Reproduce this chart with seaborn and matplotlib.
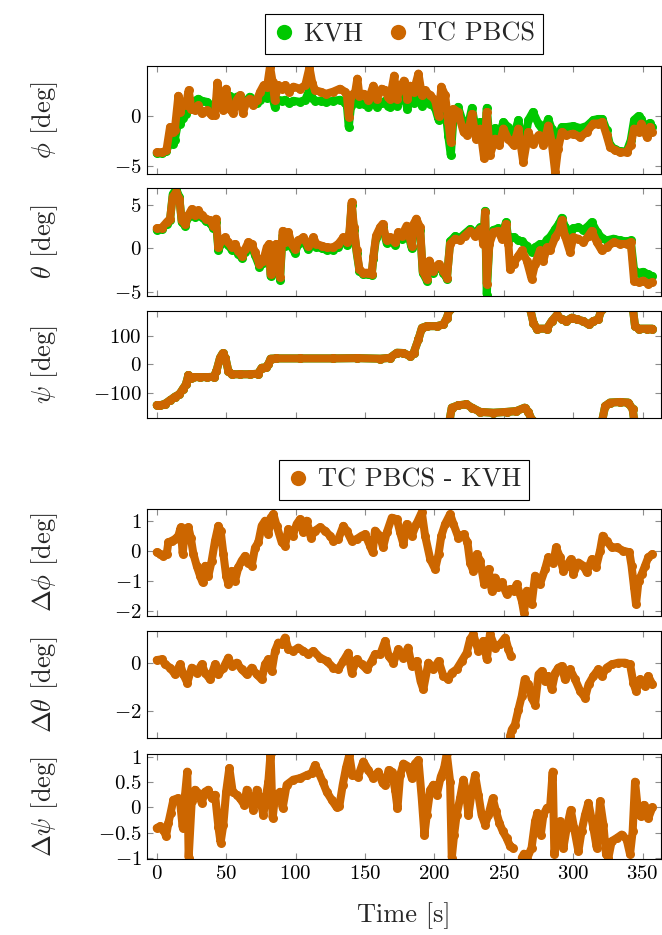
import matplotlib
matplotlib.use("Agg")
import matplotlib.pyplot as plt
import pandas as pd
import seaborn as sns
from matplotlib.lines import Line2D

GREEN = "#00c800"
ORANGE = "#cc6600"

# ---------------- data (time [s], TC PBCS, KVH) ----------------
phi_pts = [
    (0, -3.6, -3.7), (4, -3.6, -3.7), (7, -3.4, -3.5), (9.6, -1.1, -2.5), (11.5, -1.6, -2.8),
    (13, -1.4, -2.4), (15.6, 2.0, -0.5), (17, 0.4, -0.8), (19, 1.4, -0.2), (21, 1.05, 0.2),
    (23, 2.55, 0.8), (25, 0.7, 0.9), (27.5, 0.55, 1.5), (30, 1.05, 1.7), (32.5, 0.25, 1.5),
    (36, 0.55, 1.4), (39.5, 0.05, 1.0), (42, 0.1, 0.9), (43.7, 3.3, 2.0), (46, 1.4, 2.2),
    (48, 0.55, 1.8), (50, 2.7, 2.2), (52.5, 0.7, 2.0), (55, 0.25, 1.6), (57.5, 1.55, 1.9),
    (60, 2.05, 2.0), (62, 0.25, 1.4), (64.5, 1.4, 1.5), (67, 1.7, 1.9), (69.5, 1.05, 1.2),
    (72, 1.55, 1.3), (74.5, 2.4, 1.6), (77, 3.05, 2.0), (79.5, 2.9, 1.8), (81.6, 4.9, 2.6),
    (83.5, 3.35, 1.8), (85, 1.55, 0.9), (87.5, 3.05, 1.6), (90, 2.7, 1.5), (92.5, 3.05, 1.6),
    (95, 2.4, 1.3), (98.5, 2.9, 1.5), (103, 2.7, 1.4), (107, 3.05, 1.6), (110, 4.8, 2.6),
    (112, 3.3, 1.8), (114, 2.55, 1.5), (118, 2.4, 1.5), (122, 2.2, 1.4), (127, 2.4, 1.5),
    (132, 2.7, 1.6), (135.6, 2.4, 1.3), (137, 2.05, 1.0), (138.3, -0.1, -1.1), (140, 2.0, 1.0),
    (143, 2.4, 1.4), (144.5, 3.7, 2.2), (146, 2.0, 1.2), (149, 2.2, 1.2), (152.5, 1.55, 0.9),
    (156, 3.0, 1.6), (158.5, 1.7, 0.9), (162, 2.7, 1.3), (164.5, 2.55, 1.5), (166.5, 1.9, 1.0),
    (168, 1.7, 0.9), (171, 4.0, 2.8), (173, 1.7, 1.0), (175, 2.7, 1.6), (178, 3.5, 2.3),
    (180.5, 1.7, 0.7), (182.5, 3.0, 1.8), (185, 2.4, 1.3), (188.5, 4.2, 2.8), (191, 2.05, 1.0),
    (193, 2.55, 1.5), (197, 2.05, 1.2), (200.5, 1.55, 0.8), (203, 0.0, -0.4), (205, 2.9, 2.0),
    (207.7, 2.05, 0.9), (210, -0.6, -2.0), (211.8, -2.6, -3.9), (213.7, 0.7, -0.3), (217, 0.4, 0.9),
    (221, -1.6, -0.8), (223.8, -1.9, -1.2), (227, 0.2, 0.8), (230, -2.25, -1.5), (233, -1.25, -0.6),
    (235.8, -4.2, -3.3), (237.7, 0.4, 0.8), (240, -3.9, -2.8), (243.7, -2.25, -1.2), (246.8, -2.9, -1.8),
    (249.7, -1.25, -0.6), (253, -2.25, -1.1), (257, -2.9, -2.0), (260.5, -1.25, -0.4), (264, -4.6, -3.5),
    (267.7, -1.6, -0.4), (271, -2.75, 0.4), (275, -1.9, -0.8), (278.5, -2.9, -1.5), (282, -0.95, -0.3),
    (284.5, -2.6, -1.3), (287, -5.6, -4.6), (289, -3.3, -2.0), (291.7, -1.6, -1.1), (295, -1.9, -1.1),
    (300, -1.75, -1.0), (305, -2.1, -1.2), (309.7, -1.6, -1.0), (314.5, -0.75, -0.4), (318, -0.75, -0.3),
    (321, -0.6, -0.3), (324, -1.9, -1.4), (326.5, -3.1, -2.9), (330, -3.4, -3.3), (333.7, -3.6, -3.5),
    (338.5, -3.6, -3.5), (341.4, -2.9, -2.4), (343.8, -1.25, -0.4), (347, -1.6, 0.0), (349, -0.75, -0.3),
    (353, -2.1, -1.5), (355, -1.1, -0.7), (357, -1.6, -1.1),
]

theta_pts = [
    (0, 2.3, 2.1), (3.6, 2.35, 2.2), (7.2, 3.0, 2.8), (9.6, 3.4, 3.2), (11.5, 5.9, 6.2),
    (14, 6.45, 6.8), (16.3, 5.7, 5.9), (18, 3.2, 3.0), (20.4, 2.8, 2.6), (22.8, 3.8, 3.6),
    (25.2, 4.5, 4.3), (27.6, 3.8, 3.6), (30, 4.35, 4.1), (32.4, 3.8, 3.6), (35.5, 3.4, 3.1),
    (38.4, 3.2, 2.9), (40.8, 2.6, 2.3), (42.7, 3.4, 3.0), (44.4, 0.1, -0.2), (46.8, 0.9, 0.6),
    (49.2, 1.25, 1.0), (51.6, 0.7, 0.4), (54, 0.1, -0.2), (56.4, 0.5, 0.2), (58.8, -0.3, -0.6),
    (61.2, -0.85, -1.1), (63.6, -0.1, -0.4), (66, 0.7, 0.4), (68.4, 0.5, 0.2), (70.8, -0.45, -0.8),
    (74, -1.8, -2.1), (76.8, -1.4, -1.7), (79.2, 0.1, -0.2), (81, 0.5, 0.2), (82, -2.95, -3.2),
    (84, -2.2, -2.5), (86, 0.5, 0.2), (87.6, -0.65, -1.0), (88.8, -3.3, -3.6), (90.7, 2.0, 1.6),
    (92.4, 0.7, 0.3), (94.8, 1.85, 1.5), (97.2, 0.5, 0.1), (99.6, -0.1, -0.5), (102, 0.9, 0.5),
    (105.6, 1.25, 0.9), (109, 0.3, -0.1), (112.8, 1.25, 0.9), (115, 0.5, 0.2), (118.8, 0.3, 0.0),
    (122.4, 0.1, -0.2), (127, 0.1, -0.2), (130.8, 0.5, 0.2), (134.4, 1.25, 1.0), (136.8, 0.7, 0.4),
    (138.7, 1.65, 1.3), (140.4, 5.3, 5.0), (142, 2.4, 2.1), (144, -0.25, -0.5), (146, -2.4, -2.6),
    (148.8, -2.8, -3.0), (152.4, -2.8, -3.0), (154.8, -2.95, -3.1), (156, -1.0, -1.2), (158, 1.45, 1.2),
    (160.8, 2.4, 2.1), (162.7, 2.8, 2.5), (165.6, 0.9, 0.6), (168, 1.25, 0.9), (171.7, 0.7, 0.4),
    (174, 1.85, 1.5), (176.5, 1.45, 1.1), (180, 2.6, 2.3), (183.7, 0.3, 0.0), (185, 2.8, 2.5),
    (187, 3.4, 3.1), (189.7, 2.4, 2.1), (191.6, -2.6, -2.8), (194.5, -3.5, -3.7), (196.4, -1.4, -1.6),
    (199.3, -2.6, -2.8), (203, -1.8, -2.0), (206.5, -2.6, -2.8), (209, -3.35, -3.5), (211.3, 0.5, 0.8),
    (215, 1.1, 1.4), (218.5, 0.9, 1.2), (222, 1.45, 1.7), (225.7, 2.0, 2.2), (229, 1.45, 1.7),
    (233, 2.2, 2.4), (235.3, 0.5, 0.8), (236.5, 4.15, 4.3), (237.7, -4.1, -5.3), (239.6, 0.5, 0.8),
    (242.5, 1.85, 2.1), (246, 2.0, 2.3), (248.5, 1.1, 1.5), (251.6, 2.8, 3.0), (253.3, 0.5, 1.0),
    (254.5, -2.4, 1.2), (257, -1.8, 1.3), (260.5, -0.85, 0.9), (263, -0.25, 0.8), (266.5, -1.4, 0.3),
    (270, -3.5, -0.4), (272.5, -1.8, 0.1), (276, -0.25, 0.5), (278.5, -1.4, 0.3), (281, 0.1, 1.0),
    (283.3, -0.25, 1.3), (287, 1.25, 2.2), (290, 2.0, 2.9), (291.7, 3.2, 3.5), (294, 1.45, 2.5),
    (297.7, -0.45, 1.4), (300, 1.25, 2.3), (303.7, 1.1, 2.4), (307.3, 0.7, 2.1), (311, 1.45, 2.6),
    (313.3, 2.0, 3.0), (317, 0.7, 1.9), (320.5, -0.25, 1.2), (324, 0.1, 0.9), (329, 0.7, 1.1),
    (333.7, 0.5, 0.9), (338.5, 0.5, 0.8), (341.4, 0.7, 0.9), (343.8, -3.7, -2.5), (347, -3.9, -2.8),
    (350.5, -3.7, -2.7), (354, -4.1, -3.0), (357, -3.9, -3.2),
]

# psi wraps at +-180 deg: one list of (time, value) per continuous piece
psi_segments = [
    [(0, -144), (2.4, -145), (6, -139), (9.6, -127), (13.2, -114), (16.3, -106), (18.7, -88),
     (21, -71), (22.8, -38), (24.5, -47), (26.4, -45), (31, -45), (36, -45), (41, -44), (43, -24),
     (45.6, 23), (47.5, 39), (49.5, 23), (51.6, -24), (54, -35), (60, -35), (67, -35), (73, -33),
     (75.6, -12), (78.7, -11), (80.4, 0), (82, 20), (86, 21), (103, 21), (127, 21), (144, 22),
     (161, 20), (168, 23), (173, 41), (177.7, 40), (182.5, 29), (185, 40), (188.5, 88), (191, 129),
     (194.5, 135), (201.7, 135), (206.5, 141), (209, 165), (211, 195)],
    [(211, -195), (212.5, -153), (217, -145), (223, -141), (227, -153), (233, -168), (242.5, -171),
     (252, -168), (259, -165), (265, -153), (267.7, -168), (270, -195)],
    [(269, 195), (271.3, 147), (273.7, 126), (281, 126), (284.5, 153), (288, 173), (291.7, 159),
     (295, 153), (299, 165), (302.5, 159), (307, 153), (311, 141), (314.5, 153), (318, 159),
     (320.5, 195)],
    [(321, -195), (323, -147), (326.5, -135), (333.7, -133), (339.7, -135), (342.8, -159), (343.8, -195)],
    [(343, 195), (344.5, 135), (347, 126), (353, 126), (357, 126)],
]

dphi_pts = [
    (0, -0.05), (2.4, -0.1), (4.8, -0.17), (7.2, -0.1), (8.4, 0.28), (10.8, 0.33), (13.2, 0.39),
    (15.6, 0.5), (17.3, 0.78), (18.7, -0.1), (20.4, 0.72), (22.8, 0.78), (24.5, 0.44), (26.4, -0.1),
    (28.8, -0.5), (31.2, -0.83), (33, -1.05), (35, -0.5), (37.2, -0.83), (39.6, -0.33), (42, 0.33),
    (44.4, 0.83), (46, 0.67), (48, -0.1), (50, -0.83), (51.6, -1.1), (54, -0.67), (56.4, -1.0),
    (58.8, -0.55), (61.2, -0.33), (63.6, -0.17), (66, -0.39), (68.4, -0.5), (70.8, 0.1), (73.2, 0.28),
    (75.6, 0.83), (78, 1.0), (80.4, 0.55), (82, 1.1), (84, 1.22), (86.4, 0.83), (90, 0.28),
    (92.4, 0.17), (94.8, 0.72), (98, 0.5), (100.8, 0.89), (103.2, 1.05), (105.6, 0.61), (108, 1.0),
    (111, 0.44), (114, 0.67), (117.6, 0.78), (121.2, 0.67), (124.8, 0.5), (127.2, 0.33), (130.8, 0.39),
    (134.4, 0.83), (136.8, 0.67), (140.4, 0.33), (144, 0.39), (147.6, 0.5), (150, 0.55), (153.6, 0.17),
    (155.5, -0.05), (157.2, 0.67), (160.8, 0.5), (163, 0.11), (165.7, 0.61), (169.3, 1.1), (173, 1.05),
    (175.3, 0.61), (177.7, 0.22), (180, 0.89), (183.7, 0.5), (187, 0.89), (190.9, 1.28), (193.3, 0.5),
    (197, -0.28), (200.5, -0.61), (203, -0.11), (205, 0.5), (207.7, 0.89), (211.3, 1.22), (213.7, 0.89),
    (217.3, 0.44), (221, 0.55), (223.8, 0.28), (225.7, -0.39), (228, -0.67), (230.5, -0.11), (233, -0.33),
    (235.8, -1.11), (239, -0.61), (241.3, -1.33), (243.7, -0.89), (246, -1.22), (248.5, -1.05),
    (252, -1.44), (254.5, -1.28), (257, -1.33), (259.3, -1.11), (263, -1.67), (264.5, -2.06),
    (266.5, -1.33), (270, -1.78), (272.5, -0.83), (276, -1.11), (279.7, -0.61), (282, -0.22),
    (285.7, -0.39), (287.6, 0.11), (290.5, -0.22), (292.9, -0.67), (295.3, -0.5), (298.2, -0.28),
    (300, -0.78), (303.7, -0.39), (307.3, -0.5), (309.7, -0.72), (313.3, -0.28), (316.4, -0.55),
    (319.3, 0.0), (321.2, 0.5), (324, 0.33), (327.7, 0.11), (331.3, 0.11), (336, 0.0), (340.4, -0.05),
    (342, -0.5), (343.8, -1.22), (345.2, -1.78), (347, -1.0), (349.3, -0.78), (351.7, -0.5),
    (354, -0.22), (357, -0.11),
]

dtheta_segments = [
    [(0, 0.14), (3.6, 0.17), (6, -0.04), (9.6, -0.18), (13.2, -0.46), (16.8, -0.04), (19.2, -0.46),
     (22, -0.81), (25.2, -0.18), (28.8, -0.39), (32.4, -0.04), (34.8, -0.39), (38.4, -0.67), (42, -0.04),
     (44.4, -0.46), (48, -0.18), (51.6, 0.24), (54, -0.11), (57.6, 0.03), (61.2, -0.25), (64.8, -0.46),
     (68.4, -0.18), (72, -0.46), (75.6, -0.67), (78, -0.04), (80.4, 0.17), (82.8, -0.32), (85.2, 0.52),
     (87.6, 0.87), (90, 0.8), (92.4, 1.08), (94.8, 0.59), (98.4, 0.52), (102, 0.66), (105.6, 0.52),
     (109.2, 0.38), (112.8, 0.52), (117.6, 0.24), (122.4, 0.1), (127.2, -0.18), (130.8, -0.25),
     (134.4, 0.1), (138, 0.45), (140.4, -0.39), (144, 0.17), (147.6, -0.04), (151.2, -0.25),
     (154.8, 0.1), (157.2, 0.38), (161, 0.38), (164.5, 0.94), (167, 0.31), (170.5, 0.03), (174, 0.59),
     (177.7, 0.24), (181, 0.66), (183.7, -0.11), (187.3, 0.1), (190, -0.74), (192, -1.09), (195.7, 0.03),
     (199.3, -0.25), (203, 0.1), (206.5, -0.53), (210, -0.67), (212.5, -0.39), (216, -0.25), (219.7, 0.1),
     (223.3, 0.45), (225.7, 1.01), (228, 1.22), (231.7, 0.52), (235.3, 0.94), (237.7, 0.17), (240, 1.22),
     (243.7, 0.66), (247.3, 0.8), (251, 1.08), (253.3, 0.59), (255, 0.31)],
    [(254.5, -3.05), (255.7, -2.77), (258, -2.56), (260.5, -1.93), (262.9, -1.37), (265, -0.67),
     (267.7, -0.88), (270, -1.44), (272.5, -1.72), (275, -0.46), (277.3, -0.32), (279.7, -0.74),
     (282, -0.53), (284.5, -1.09), (287, -0.39), (289.3, -0.18), (291.7, -0.11), (294, -0.67),
     (297.7, -0.25), (301.3, -0.67), (305, -1.16), (308.5, -1.44), (311, -0.88), (314.5, -0.53),
     (318, -0.25), (320.5, -0.53), (324, -0.18), (327.7, -0.04), (332.5, 0.03), (337.3, 0.03),
     (340.9, -0.04), (343.3, -0.81), (345.2, -1.16), (348, -0.67), (351.7, -0.95), (354, -0.53),
     (357, -0.88)],
]

dpsi_segments = [
    [(0, -0.41), (2.4, -0.375), (4.8, -0.44), (6.7, -0.57), (8.4, -0.31), (10, -0.11), (12, 0.15),
     (15, 0.18), (16.8, 0.12), (18.7, -0.4), (20.4, 0.25), (22, 0.71), (23, -1.0), (25.2, 0.12),
     (27.6, 0.35), (30, 0.28), (32.4, 0.09), (34.8, 0.31), (37.2, 0.35), (39.6, 0.18), (42, 0.25),
     (44.4, -0.38), (46, -0.7), (48, -0.34), (50, 0.31), (52.3, 0.78), (54.7, 0.31), (57.6, 0.25),
     (60, 0.18), (63, 0.05), (64.8, 0.35), (67.2, 0.18), (69.6, -0.05), (72, 0.35), (74.4, 0.18),
     (76.8, -0.15), (78.7, 0.22), (80.4, 0.51), (82, 1.07), (83.5, -0.21), (85.2, 0.22), (88.8, 0.31),
     (90.7, -0.01), (93.6, 0.45), (98.4, 0.55), (103.2, 0.58), (108, 0.64), (111.6, 0.68), (114, 0.84),
     (116.4, 0.71), (119.5, 0.51), (122.4, 0.31), (126, 0.15), (129.6, 0.0), (131.5, 0.02), (134, 0.45),
     (136.3, 0.78), (138.7, 1.04), (141, 0.64), (145, 0.61), (148.8, 0.91), (152.4, 0.74), (156, 0.58),
     (159.6, 0.71), (162.7, 0.48), (164.5, 0.45), (167, 0.74), (169.3, 0.71), (171.7, 0.35),
     (173.4, -0.01), (175.3, 0.64), (177.7, 0.87), (181.3, 0.81), (183.7, 0.58), (186, 0.87),
     (188.5, 0.94), (190.9, 0.18), (192.8, -0.54), (194.5, -0.15), (197, 0.35), (199.3, 0.45),
     (201.7, 0.25), (204.6, 0.61), (207, 0.78), (208.9, 1.07), (211.3, 0.51), (212.5, -1.0),
     (214.2, -0.54), (216, -0.15), (218.5, 0.18), (220.9, 0.55), (222.8, 0.31), (224.5, -0.15),
     (226.9, 0.31), (229.3, 0.64), (231.7, 0.25), (234, -0.15), (236.5, -0.34), (238.9, -0.15),
     (242, 0.18), (244.4, -0.08), (246.8, -0.31), (249.2, -0.47), (252, -0.61), (254.5, -0.77),
     (256.4, -0.8)],
    [(262.9, -1.0), (264.5, -0.92), (266.5, -1.03), (270, -0.8), (272.5, -0.28), (274.2, -0.11),
     (276.6, -0.54), (278.5, -0.15), (281, -0.01), (283.3, -0.01), (285.2, 0.71), (286.4, -0.93),
     (288, -0.61), (290.5, -0.28), (292.9, -0.8), (295.3, -0.41), (298.2, -0.05), (300.6, -0.41),
     (303.7, -0.87), (306, -0.47), (308.5, -0.15), (310.9, 0.09), (314.5, -0.41), (316.9, -0.8),
     (319.3, 0.12), (321.7, -0.34), (323.6, -0.93), (325.3, -1.0), (327.7, -0.67), (331.3, -0.61),
     (334.9, -0.54), (338.5, -0.64), (340.9, -0.93), (342.8, -0.47), (344.5, 0.51), (346.2, 0.05),
     (348.6, -0.18), (351, 0.05), (354.1, -0.21), (357, 0.0)],
]

x_ticks = [0, 50, 100, 150, 200, 250, 300, 350]
y_labels = [r"$\phi$ [deg]", r"$\theta$ [deg]", r"$\psi$ [deg]",
            r"$\Delta\phi$ [deg]", r"$\Delta\theta$ [deg]", r"$\Delta\psi$ [deg]"]
y_ticks = [[-5, 0], [-5, 0, 5], [-100, 0, 100], [-2, -1, 0, 1], [-2, 0], [-1, -0.5, 0, 0.5, 1]]
y_limits = [(-5.75, 4.95), (-5.47, 6.92), (-189.5, 188.5), (-2.17, 1.39), (-3.12, 1.355), (-1.025, 1.06)]

# ---------------- style ----------------
sns.set_theme(style="ticks")
plt.rcParams.update({
    "font.family": "serif",
    "font.serif": ["cmr10", "DejaVu Serif"],
    "mathtext.fontset": "cm",
    "axes.unicode_minus": True,
    "axes.edgecolor": "black",
    "axes.linewidth": 0.8,
})

FS = 15      # tick labels
FS_LAB = 19  # axis labels
FS_LEG = 19  # legends
W, H = 662, 935
fig = plt.figure(figsize=(W / 100, H / 100), dpi=100)
boxes = [(66, 174), (188, 296), (311, 418), (509, 616), (631, 738), (754, 859)]
L, R = 147, 661
axes = [fig.add_axes([L / W, 1 - b / H, (R - L) / W, (b - t) / H]) for t, b in boxes]

LINE_KW = dict(lw=5.8, marker="o", markersize=6.5, markeredgewidth=0,
               solid_capstyle="round", solid_joinstyle="round", legend=False)


def draw(ax, frame, col, color):
    sns.lineplot(data=frame, x="t", y=col, units="seg", estimator=None, sort=False,
                 color=color, ax=ax, **LINE_KW)


def seg_frame(segments):
    rows = []
    for k, seg in enumerate(segments):
        for tt, vv in seg:
            rows.append({"t": tt, "v": vv, "seg": k})
    return pd.DataFrame(rows)


phi_df = pd.DataFrame(phi_pts, columns=["t", "tc", "kvh"]).assign(seg=0)
theta_df = pd.DataFrame(theta_pts, columns=["t", "tc", "kvh"]).assign(seg=0)
psi_df = seg_frame(psi_segments)
dphi_df = pd.DataFrame(dphi_pts, columns=["t", "v"]).assign(seg=0)
dtheta_df = seg_frame(dtheta_segments)
dpsi_df = seg_frame(dpsi_segments)

draw(axes[0], phi_df, "kvh", GREEN)
draw(axes[0], phi_df, "tc", ORANGE)
draw(axes[1], theta_df, "kvh", GREEN)
draw(axes[1], theta_df, "tc", ORANGE)
draw(axes[2], psi_df, "v", GREEN)
draw(axes[2], psi_df, "v", ORANGE)
draw(axes[3], dphi_df, "v", ORANGE)
draw(axes[4], dtheta_df, "v", ORANGE)
draw(axes[5], dpsi_df, "v", ORANGE)


def fmt(v):
    return "$" + f"{v:g}" + "$"


for i, ax in enumerate(axes):
    ax.set_xlim(-7, 363.2)
    ax.set_ylim(*y_limits[i])
    ax.set_xticks(x_ticks)
    ax.set_yticks(y_ticks[i])
    ax.set_yticklabels([fmt(v) for v in y_ticks[i]], fontsize=FS)
    if i == 5:
        ax.set_xticklabels([fmt(v) for v in x_ticks], fontsize=FS)
        ax.set_xlabel("Time [s]", fontsize=FS_LAB, labelpad=14)
    else:
        ax.set_xticklabels([])
        ax.set_xlabel("")
    ax.set_ylabel(y_labels[i], fontsize=FS_LAB)
    ax.yaxis.set_label_coords(-0.17, 0.5)
    ax.tick_params(axis="both", direction="in", length=4.5, width=0.8, color="#8c8c8c",
                   top=True, right=True, labelcolor="black", pad=4)
    for sp in ax.spines.values():
        sp.set_visible(True)
        sp.set_color("black")
        sp.set_linewidth(0.8)

h_kvh = Line2D([], [], ls="none", marker="o", markersize=11, markeredgewidth=0, color=GREEN)
h_tc = Line2D([], [], ls="none", marker="o", markersize=11, markeredgewidth=0, color=ORANGE)

leg_kw = dict(loc="center", frameon=True, fancybox=False, edgecolor="black", fontsize=FS_LEG,
              handletextpad=0.35, columnspacing=0.9, borderpad=0.3, handlelength=0.8,
              framealpha=1)
lg1 = fig.legend([h_kvh, h_tc], ["KVH", "TC PBCS"], ncol=2,
                 bbox_to_anchor=(404 / W, 1 - 34 / H), **leg_kw)
lg1.get_frame().set_linewidth(0.8)
lg2 = fig.legend([h_tc], ["TC PBCS - KVH"], ncol=1,
                 bbox_to_anchor=(404 / W, 1 - 480 / H), **leg_kw)
lg2.get_frame().set_linewidth(0.8)

fig.savefig("out.png", dpi=100)
